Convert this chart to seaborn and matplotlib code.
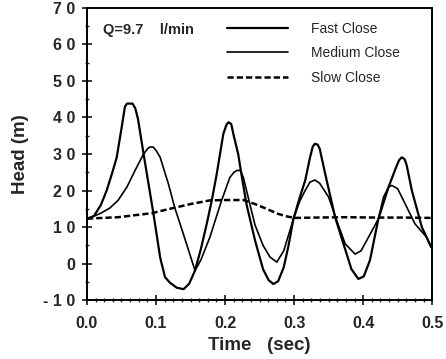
import pandas as pd
import matplotlib
matplotlib.use("Agg")
import matplotlib.pyplot as plt
import seaborn as sns
from matplotlib.ticker import MultipleLocator, FixedLocator, FixedFormatter

# values
fast_t = [0.0, 0.01, 0.02, 0.0285, 0.036, 0.043, 0.05, 0.055, 0.058, 0.066, 0.07, 0.074, 0.082,
          0.089, 0.096, 0.106, 0.113, 0.12, 0.13, 0.14, 0.148, 0.1565, 0.165, 0.1735, 0.181,
          0.188, 0.1975, 0.202, 0.205, 0.209, 0.212, 0.219, 0.225, 0.231, 0.2435, 0.255, 0.263,
          0.27, 0.277, 0.285, 0.292, 0.299, 0.308, 0.316, 0.323, 0.327, 0.330, 0.334, 0.337,
          0.345, 0.3594, 0.3715, 0.383, 0.393, 0.401, 0.41, 0.422, 0.4367, 0.447, 0.452, 0.456,
          0.46, 0.463, 0.4706, 0.485, 0.4986]
fast_h = [12.3, 13.0, 16.0, 20.0, 24.5, 29.0, 37.0, 43.0, 43.8, 43.8, 42.5, 39.5, 30.0,
          22.0, 14.0, 1.7, -3.7, -5.2, -6.6, -7.0, -5.5, -1.9, 4.0, 10.9, 17.5,
          24.6, 35.5, 38.0, 38.7, 38.2, 35.5, 30.0, 23.0, 16.3, 6.3, -1.5, -4.5,
          -5.6, -4.8, -1.0, 5.0, 12.2, 18.0, 22.7, 29.0, 32.0, 32.8, 32.6, 31.5,
          24.6, 12.7, 5.4, -1.5, -4.2, -3.5, 1.0, 12.2, 20.9, 26.0, 28.3, 29.1,
          28.6, 27.0, 20.0, 10.0, 4.5]

med_t = [0.0, 0.008, 0.02, 0.033, 0.045, 0.058, 0.0696, 0.082, 0.088, 0.091, 0.096, 0.1,
         0.106, 0.118, 0.127, 0.1396, 0.1565, 0.165, 0.178, 0.195, 0.207, 0.213, 0.217, 0.222,
         0.2265, 0.235, 0.2435, 0.255, 0.265, 0.275, 0.285, 0.299, 0.308, 0.316, 0.323, 0.330,
         0.337, 0.35, 0.36, 0.374, 0.3884, 0.397, 0.41, 0.422, 0.4295, 0.437, 0.4416, 0.45,
         0.461, 0.475, 0.492, 0.4986]
med_h = [12.3, 12.8, 13.8, 15.2, 17.3, 21.0, 25.5, 30.0, 31.5, 31.9, 31.9, 31.0,
         29.1, 21.8, 15.4, 8.1, -1.9, 1.0, 7.2, 17.3, 23.6, 25.0, 25.5, 25.5,
         23.6, 17.0, 10.5, 5.0, 1.8, 0.4, 3.5, 12.2, 17.0, 20.0, 22.3, 22.9,
         22.0, 18.2, 12.7, 5.4, 2.6, 3.5, 8.0, 12.2, 18.2, 21.0, 21.4, 20.5,
         16.3, 10.9, 7.2, 4.5]

slow_t = [0.0, 0.045, 0.094, 0.12, 0.15, 0.178, 0.2, 0.2265, 0.2435, 0.26, 0.277, 0.29,
          0.301, 0.33, 0.374, 0.42, 0.46, 0.5]
slow_h = [12.3, 12.7, 13.8, 15.0, 16.3, 17.3, 17.4, 17.4, 16.3, 15.0, 13.6, 12.9,
          12.5, 12.6, 12.7, 12.6, 12.6, 12.5]

series = ["Fast Close", "Medium Close", "Slow Close"]
y_ticks = [-10, 0, 10, 20, 30, 40, 50, 60, 70]
y_labels = ["- 1 0", "0", "1 0", "2 0", "3 0", "4 0", "5 0", "6 0", "7 0"]
x_ticks = [0.0, 0.1, 0.2, 0.3, 0.4, 0.5]
x_labels = ["0.0", "0.1", "0.2", "0.3", "0.4", "0.5"]

df = pd.concat([
    pd.DataFrame({"t": fast_t, "h": fast_h, "s": series[0]}),
    pd.DataFrame({"t": med_t, "h": med_h, "s": series[1]}),
    pd.DataFrame({"t": slow_t, "h": slow_h, "s": series[2]}),
])

sns.set_style("ticks")
plt.rcParams["font.family"] = ["Liberation Sans", "DejaVu Sans"]

fig = plt.figure(figsize=(4.46, 3.59), dpi=100)
ax = fig.add_axes([0.195, 0.164, 0.774, 0.814])

sns.lineplot(data=df, x="t", y="h", hue="s", style="s", sort=False,
             palette={s: "black" for s in series},
             dashes={series[0]: "", series[1]: "", series[2]: (2.5, 1.2)},
             ax=ax, legend=False)
lw = {series[0]: 1.6, series[1]: 1.2, series[2]: 1.8}
for line, s in zip(ax.get_lines(), series):
    line.set_linewidth(lw[s])

ax.set_xlim(0, 0.5)
ax.set_ylim(-10, 70)
ax.yaxis.set_major_locator(FixedLocator(y_ticks))
ax.yaxis.set_major_formatter(FixedFormatter(y_labels))
ax.xaxis.set_major_locator(FixedLocator(x_ticks))
ax.xaxis.set_major_formatter(FixedFormatter(x_labels))
ax.yaxis.set_minor_locator(MultipleLocator(5))
ax.xaxis.set_minor_locator(MultipleLocator(0.0125))
ax.tick_params(which="major", direction="inout", length=7, width=1.3,
               labelsize=11.5, pad=5)
ax.tick_params(axis="x", which="major", pad=8)
ax.tick_params(which="minor", direction="inout", length=3.5, width=1.0)
for lab in ax.get_xticklabels() + ax.get_yticklabels():
    lab.set_fontweight("bold")
for sp in ax.spines.values():
    sp.set_linewidth(1.4)
    sp.set_color("black")

ax.set_xlabel("Time   (sec)", fontsize=13.5, fontweight="bold", labelpad=4)
ax.set_ylabel("Head (m)", fontsize=13.5, fontweight="bold", labelpad=10)

ax.text(0.045, 0.925, "Q=9.7    l/min", transform=ax.transAxes, fontsize=10.5,
        fontweight="bold", va="center")

# legend drawn from the plotted lines
handles = ax.get_lines()[:3]
leg = ax.legend(handles, series, loc="upper left", bbox_to_anchor=(0.37, 0.995),
                frameon=False, handlelength=4.4, handletextpad=1.6,
                labelspacing=0.75, fontsize=10)

fig.savefig("out.png", dpi=100)
